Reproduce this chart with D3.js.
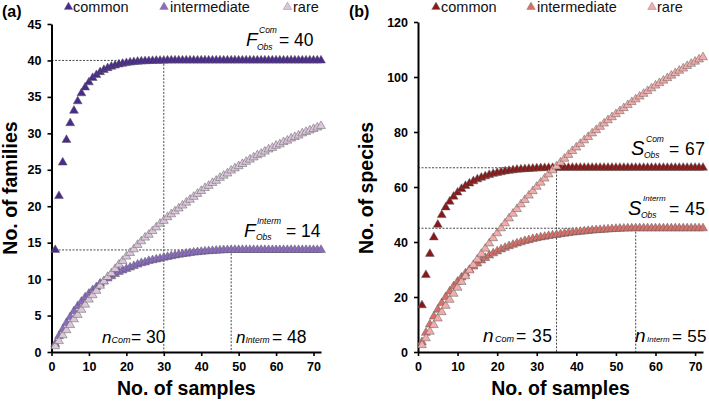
<!DOCTYPE html>
<html><head><meta charset="utf-8">
<script src="https://cdn.jsdelivr.net/npm/d3@7"></script>
<style>
body{margin:0;background:#fff}
svg{display:block}
text{font-family:"Liberation Sans",Arial,Helvetica,sans-serif}
</style>
</head><body>
<svg id="chart" width="709" height="402"></svg>
<script>
// ---------------- DATA ----------------
const samples = [1,2,3,4,5,6,7,8,9,10,11,12,13,14,15,16,17,18,19,20,21,22,23,24,25,26,27,28,29,30,31,32,33,34,35,36,37,38,39,40,41,42,43,44,45,46,47,48,49,50,51,52,53,54,55,56,57,58,59,60,61,62,63,64,65,66,67,68,69,70,71,72];

// panel (a): families
const famCommon = [14.0,21.4,26.0,29.1,31.4,33.1,34.4,35.5,36.3,37.0,37.6,38.0,38.4,38.7,38.95,39.15,39.3,39.45,39.55,39.65,39.72,39.78,39.83,39.87,39.9,39.92,39.94,39.96,39.97,39.98,40,40,40,40,40,40,40,40,40,40,40,40,40,40,40,40,40,40,40,40,40,40,40,40,40,40,40,40,40,40,40,40,40,40,40,40,40,40,40,40,40,40];
const famInterm = [1.1,2.2,3.1,4.0,4.8,5.6,6.3,6.9,7.5,8.0,8.5,8.9,9.4,9.7,10.1,10.4,10.7,11.0,11.2,11.4,11.6,11.8,12.0,12.2,12.3,12.5,12.6,12.7,12.8,12.95,13.05,13.15,13.25,13.35,13.43,13.5,13.58,13.65,13.7,13.75,13.8,13.84,13.88,13.91,13.94,13.97,13.99,14.0,14,14,14,14,14,14,14,14,14,14,14,14,14,14,14,14,14,14,14,14,14,14,14,14];
const famRare = [0.8,1.5,2.3,3.0,3.7,4.5,5.1,5.8,6.5,7.2,7.8,8.4,9.1,9.7,10.3,10.8,11.4,12.0,12.5,13.1,13.6,14.1,14.7,15.2,15.7,16.1,16.6,17.1,17.6,18.0,18.5,18.9,19.3,19.7,20.1,20.5,20.9,21.3,21.7,22.1,22.5,22.8,23.2,23.5,23.9,24.2,24.5,24.9,25.2,25.5,25.8,26.1,26.4,26.7,27.0,27.2,27.5,27.8,28.0,28.3,28.5,28.8,29.0,29.3,29.5,29.7,30.0,30.2,30.4,30.6,30.8,31.0];

// panel (b): species
const spCommon = [17.0,28.0,35.7,41.7,46.3,49.8,52.6,54.7,56.5,58.0,59.3,60.4,61.3,62.1,62.8,63.4,63.9,64.4,64.8,65.1,65.4,65.7,65.9,66.1,66.3,66.4,66.5,66.6,66.7,66.8,66.85,66.9,66.93,66.96,67,67,67,67,67,67,67,67,67,67,67,67,67,67,67,67,67,67,67,67,67,67,67,67,67,67,67,67,67,67,67,67,67,67,67,67,67,67];
const spInterm = [3.6,7.0,10.0,12.9,15.4,17.8,20.0,22.0,23.9,25.6,27.1,28.6,29.9,31.1,32.2,33.3,34.2,35.1,35.9,36.6,37.3,37.9,38.5,39.0,39.5,39.9,40.4,40.7,41.1,41.4,41.7,41.9,42.2,42.4,42.6,42.85,43.05,43.25,43.45,43.6,43.75,43.9,44.05,44.2,44.3,44.4,44.5,44.6,44.7,44.78,44.85,44.9,44.95,44.98,45,45,45,45,45,45,45,45,45,45,45,45,45,45,45,45,45,45];
const spRare = [2.5,5.0,7.4,9.8,12.2,14.5,16.8,19.0,21.2,23.4,25.5,27.6,29.7,31.7,33.7,35.7,37.6,39.5,41.4,43.2,45.0,46.8,48.6,50.3,52.0,53.7,55.3,56.9,58.5,60.1,61.6,63.1,64.6,66.1,67.5,68.9,70.3,71.7,73.1,74.4,75.7,77.0,78.2,79.5,80.7,81.9,83.1,84.3,85.4,86.5,87.6,88.7,89.8,90.9,91.9,92.9,93.9,94.9,95.9,96.9,97.8,98.7,99.6,100.5,101.4,102.3,103.1,104.0,104.8,105.6,106.4,107.2];

const seriesNames = ["common","intermediate","rare"];
const xTicks = [0,10,20,30,40,50,60,70];
const yTicksA = [0,5,10,15,20,25,30,35,40,45];
const yTicksB = [0,20,40,60,80,100,120];
const refsA = [{obs:40, n:30}, {obs:14, n:48}];
const refsB = [{obs:67, n:35}, {obs:45, n:55}];
const colorsA = ["#4a2a8e","#8b6cc2","#dcc6dc"];
const colorsB = ["#8a1818","#d8706a","#f2acaa"];

// ---------------- DRAW ----------------
const svg = d3.select("#chart");
const FONT = '"Liberation Sans",Arial,sans-serif';

function panel(cfg){
  const g = svg.append("g");
  const x = d3.scaleLinear().domain([0,72]).range(cfg.xr);
  const y = d3.scaleLinear().domain([0,cfg.ymax]).range(cfg.yr);

  cfg.refs.forEach(r=>{
    g.append("line").attr("x1",x(0)).attr("x2",x(r.n)).attr("y1",y(r.obs)).attr("y2",y(r.obs))
      .attr("stroke","#333").attr("stroke-width",0.9).attr("stroke-dasharray","2,1.5");
    g.append("line").attr("x1",x(r.n)).attr("x2",x(r.n)).attr("y1",y(r.obs)).attr("y2",y(0))
      .attr("stroke","#333").attr("stroke-width",0.9).attr("stroke-dasharray","2,1.5");
  });

  const ax = g.append("g").attr("transform",`translate(0,${y(0)})`)
    .call(d3.axisBottom(x).tickValues(xTicks).tickSize(4).tickSizeOuter(0).tickPadding(6));
  const ay = g.append("g").attr("transform",`translate(${x(0)},0)`)
    .call(d3.axisLeft(y).tickValues(cfg.yTicks).tickSize(4).tickSizeOuter(0).tickPadding(6));
  [ax,ay].forEach(a=>{
    a.select(".domain").attr("stroke","#000").attr("stroke-width",2);
    a.selectAll(".tick line").attr("stroke","#000").attr("stroke-width",1.6);
    a.selectAll(".tick text").attr("fill","#000").style("font-family",FONT)
      .style("font-weight","bold").style("font-size","12.5px");
  });

  const sym = d3.symbol().type(d3.symbolTriangle).size(34);
  cfg.series.forEach((vals,i)=>{
    g.append("g").selectAll("path").data(samples)
      .join("path")
      .attr("d",sym)
      .attr("transform",(d,j)=>`translate(${x(d)},${y(vals[j])})`)
      .attr("fill",cfg.colors[i]).attr("stroke","#5a5a5a").attr("stroke-width",0.5);
  });

  cfg.legend.forEach((L,i)=>{
    g.append("path").attr("d",d3.symbol().type(d3.symbolTriangle).size(32)())
      .attr("transform",`translate(${L[0]},7)`).attr("fill",cfg.colors[i]).attr("stroke","#777").attr("stroke-width",0.4);
    g.append("text").attr("x",L[1]).attr("y",12).text(seriesNames[i])
      .style("font-size","14.5px").attr("fill","#111");
  });

  g.append("text").attr("transform",`translate(${cfg.ytx},188) rotate(-90)`).attr("text-anchor","middle")
    .style("font-size","19.5px").style("font-weight","bold").text(cfg.ytitle);
  g.append("text").attr("x",(x(0)+x(72))/2).attr("y",395).attr("text-anchor","middle")
    .style("font-size","19.5px").style("font-weight","bold").text("No. of samples");
  g.append("text").attr("x",cfg.lblx).attr("y",17).style("font-size","16px").style("font-weight","bold").text(cfg.label);
  return g;
}

function ann(g, p){
  g.append("text").attr("x",p.x).attr("y",p.y).style("font-size",p.fs||"19px").style("font-style","italic").text(p.L);
  if(p.sup) g.append("text").attr("x",p.supx).attr("y",p.supy).style("font-size",p.supfs||"8.5px").style("font-style","italic").text(p.sup);
  if(p.sub) g.append("text").attr("x",p.subx).attr("y",p.suby).style("font-size",p.subfs||"8.5px").style("font-style","italic").text(p.sub);
  g.append("text").attr("x",p.ex).attr("y",p.y).style("font-size",p.efs||"17.5px")
    .style("letter-spacing",p.ls||"0px").text(p.eq);
}

const gA = panel({xr:[51.5,321], yr:[352,24], ymax:45, yTicks:yTicksA, refs:refsA, colors:colorsA,
  series:[famCommon,famInterm,famRare],
  legend:[[68.5,73],[164,170],[287.5,293]], ytx:16.5, ytitle:"No. of families", lblx:2, label:"(a)"});
const gB = panel({xr:[418,703], yr:[352,22], ymax:120, yTicks:yTicksB, refs:refsB, colors:colorsB,
  series:[spCommon,spInterm,spRare],
  legend:[[436,441],[531,537],[652,657]], ytx:373, ytitle:"No. of species", lblx:349, label:"(b)"});

// annotations panel (a)
ann(gA,{L:"F",x:246,y:46,sup:"Com",supx:259,supy:33,sub:"Obs",subx:257,suby:50,eq:"= 40",ex:279});
ann(gA,{L:"F",x:244,y:237,sup:"Interm",supx:257,supy:224,sub:"Obs",subx:256,suby:240,eq:"= 14",ex:286});
ann(gA,{L:"n",x:102,y:343,fs:"17px",sub:"Com",subx:111.5,suby:343,subfs:"9px",eq:"= 30",ex:131});
ann(gA,{L:"n",x:236,y:343,fs:"17px",sub:"Interm",subx:245.5,suby:343,subfs:"8.5px",eq:"= 48",ex:272});
// annotations panel (b)
ann(gB,{L:"S",x:631,y:155,fs:"20px",sup:"Com",supx:646,supy:142,sub:"Obs",subx:644,suby:158,eq:"= 67",ex:669,efs:"17.5px",ls:"0.5px"});
ann(gB,{L:"S",x:628,y:215,fs:"20px",sup:"Interm",supx:643,supy:201,supfs:"8px",sub:"Obs",subx:641,suby:218,eq:"= 45",ex:669,efs:"17.5px",ls:"0.5px"});
ann(gB,{L:"n",x:483,y:342,fs:"19px",sub:"Com",subx:495,suby:342,subfs:"9px",eq:"= 35",ex:516,efs:"17.5px",ls:"0.5px"});
ann(gB,{L:"n",x:635,y:342,fs:"19px",sub:"Interm",subx:647,suby:342,subfs:"8px",eq:"= 55",ex:672,efs:"17px",ls:"0.3px"});
</script>
</body></html>
